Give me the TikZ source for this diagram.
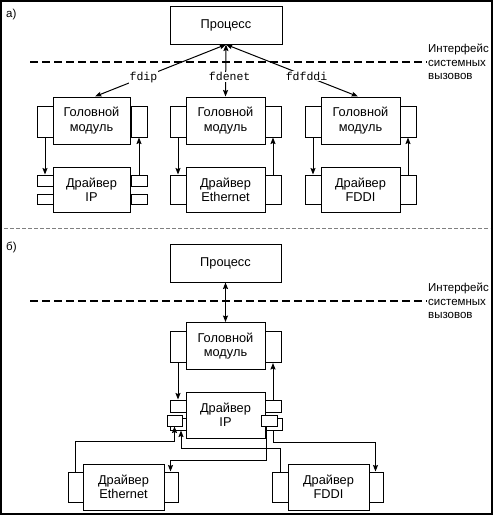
\documentclass[tikz,border=0pt]{standalone}
\usepackage{fontspec}
\setmainfont{Liberation Sans}
\newfontfamily\monof{Liberation Mono}
\usetikzlibrary{arrows.meta,calc}
\newcommand\lbl{\fontsize{12.8}{14.2}\selectfont}
\newcommand\slbl{\fontsize{11.5}{13.5}\selectfont}
\newcommand\mlbl{\monof\fontsize{11.5}{14}\selectfont}
\newcommand\tb[5]{\node[tab,minimum width=#4pt,minimum height=#5pt] (#1) at (#2,#3) {};}
\tikzset{
  box/.style={draw, fill=white, line width=1pt, inner sep=0pt, align=center, font=\lbl},
  tab/.style={draw, fill=white, line width=1pt, inner sep=0pt},
  conn/.style={line width=1pt},
  arr/.style={conn, -{Stealth[length=6.5pt,width=5pt,inset=1pt]}},
  darr/.style={conn, {Stealth[length=6.5pt,width=5pt,inset=1pt]}-{Stealth[length=6.5pt,width=5pt,inset=1pt]}},
  sysline/.style={line width=1.2pt, dash pattern=on 8pt off 4pt},
  lab/.style={fill=white, inner sep=1pt, font=\mlbl},
  iface/.style={anchor=west, align=left, inner sep=1pt, font=\slbl},
  plabel/.style={anchor=west, inner sep=0pt, font=\slbl},
}
\begin{document}
\begin{tikzpicture}[x=1pt,y=-1pt]
\useasboundingbox (0,0) rectangle (496,517);
\draw[line width=1.2pt] (1,1) rectangle (492,514);

% ---------------- part a ----------------
\node[plabel] (la) at (6,15) {а)};
\node[box, minimum width=112pt, minimum height=38pt] (pa) at (226,25) {Процесс};
\node[iface] (ifa) at (427,62) {Интерфейс\\системных\\вызовов};
\draw[sysline] (30,62) -- (ifa.west);

% left group
\tb{hlaL}{45}{121.5}{16}{31}
\tb{hlaR}{139}{121.5}{16}{31}
\node[box,minimum width=77pt,minimum height=47pt] (hla) at (91.5,120.5) {Головной\\модуль};
\tb{dlaLa}{45}{180.5}{16}{11}
\tb{dlaLb}{45}{199}{16}{10}
\tb{dlaRa}{139}{180.5}{16}{11}
\tb{dlaRb}{139}{199}{16}{10}
\node[box,minimum width=77pt,minimum height=45pt] (dla) at (91.5,189.5) {Драйвер\\IP};
\draw[arr] (hlaL.south) -- (dlaLa.north);
\draw[arr] (dlaRa.north) -- (hlaR.south);

% middle group
\tb{hmaL}{178}{121.5}{16}{31}
\tb{hmaR}{273}{121.5}{16}{31}
\node[box,minimum width=79pt,minimum height=47pt] (hma) at (225.5,120.5) {Головной\\модуль};
\tb{dmaL}{178}{189.5}{16}{29}
\tb{dmaR}{273}{189.5}{16}{29}
\node[box,minimum width=79pt,minimum height=45pt] (dma) at (225.5,189.5) {Драйвер\\Ethernet};
\draw[arr] (hmaL.south) -- (dmaL.north);
\draw[arr] (dmaR.north) -- (hmaR.south);

% right group
\tb{hraL}{313}{121.5}{16}{31}
\tb{hraR}{408}{121.5}{16}{31}
\node[box,minimum width=79pt,minimum height=47pt] (hra) at (360.5,120.5) {Головной\\модуль};
\tb{draL}{313}{189.5}{16}{29}
\tb{draR}{408}{189.5}{16}{29}
\node[box,minimum width=79pt,minimum height=45pt] (dra) at (360.5,189.5) {Драйвер\\FDDI};
\draw[arr] (hraL.south) -- (draL.north);
\draw[arr] (draR.north) -- (hraR.south);

% process connections
\draw[darr] (pa.south) -- node[lab, pos=0.63] {fdip} ($(hla.north)+(3.5,0)$);
\draw[darr] (pa.south) -- node[lab, pos=0.62, xshift=4pt] {fdenet} (hma.north);
\draw[darr] (pa.south) -- node[lab, pos=0.61] {fdfddi} ($(hra.north)+(-2.5,0)$);

% separator
\draw[gray, line width=0.6pt, dash pattern=on 4pt off 2pt] (4,228.5) -- (490,228.5);

% ---------------- part b ----------------
\node[plabel] (lb) at (6,247) {б)};
\node[box, minimum width=111pt, minimum height=38pt] (pb) at (225.5,263) {Процесс};
\node[iface] (ifb) at (427,301) {Интерфейс\\системных\\вызовов};
\draw[sysline] (30,301) -- (ifb.west);

\tb{hbL}{178}{347}{16}{31}
\tb{hbR}{273}{347}{16}{31}
\node[box,minimum width=79pt,minimum height=47pt] (hb) at (225.5,346) {Головной\\модуль};
\draw[darr] (pb.south) -- (hb.north);

\tb{ibLa}{178}{406}{16}{12}
\tb{ibRa}{273}{406}{16}{12}
\tb{ilb}{178}{424}{16}{12}
\tb{irb}{273.5}{424}{17}{12}
\node[box,minimum width=79pt,minimum height=46pt] (ib) at (225.5,415) {Драйвер\\IP};
\tb{ilf}{174.5}{420.5}{15}{11}
\tb{irf}{269}{420.5}{16}{11}
\draw[arr] (hbL.south) -- (ibLa.north);
\draw[arr] (ibRa.north) -- (hbR.south);

% lower drivers
\tb{ebL}{75.5}{487}{15}{30}
\tb{ebR}{170.5}{487}{15}{30}
\node[box,minimum width=81pt,minimum height=46pt] (eb) at (123.5,487) {Драйвер\\Ethernet};
\tb{fbL}{280}{487}{16}{30}
\tb{fbR}{375.5}{487}{15}{30}
\node[box,minimum width=81pt,minimum height=46pt] (fb) at (328.5,487) {Драйвер\\FDDI};

\draw[arr] (ebL.north) -- ++(0,-30) -| (ilf.south);
\draw[arr] (fbL.north) -- ++(0,-23) -| ($(ilb.south)+(3,0)$);
\draw[arr] ($(irf.south)+(-3,0)$) -- ++(0,34) -| (ebR.north);
\draw[arr] (irb.south) -- ++(0,12) -| (fbR.north);
\end{tikzpicture}
\end{document}
